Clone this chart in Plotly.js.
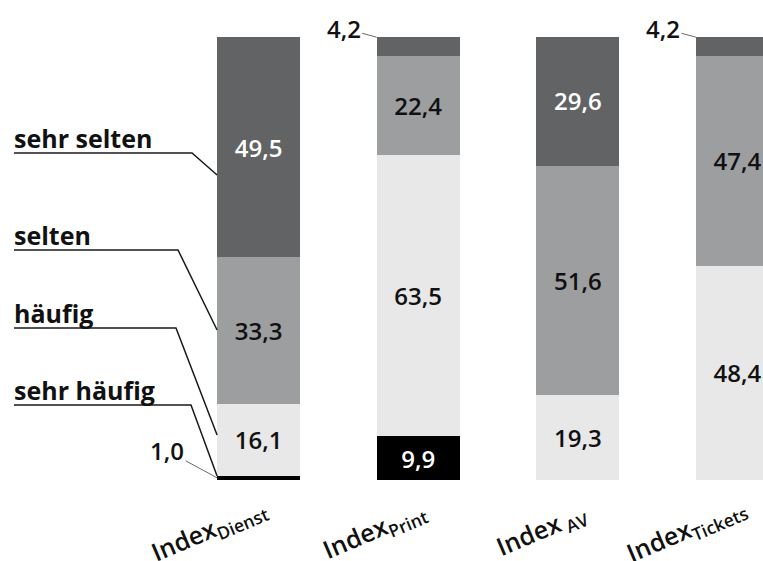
<!DOCTYPE html>
<html>
<head>
<meta charset="utf-8">
<script src="https://cdn.plot.ly/plotly-3.0.1.min.js"></script>
<style>
  html, body { margin: 0; padding: 0; background: #fff; }
  #chart { width: 763px; height: 561px; }
</style>
</head>
<body>
<div id="chart"></div>
<script>
// Stacked shares (%) per index
const categories = ['Dienst', 'Print', 'AV', 'Tickets'];
const tickLabels = ['Index<sub>Dienst</sub>', 'Index<sub>Print</sub>', 'Index<sub> AV</sub>', 'Index<sub>Tickets</sub>'];
const seriesNames = ['sehr häufig', 'häufig', 'selten', 'sehr selten'];
const sehrHaeufig = [1.0, 9.9, 0, 0];
const haeufig     = [16.1, 63.5, 19.3, 48.4];
const selten      = [33.3, 22.4, 51.6, 47.4];
const sehrSelten  = [49.5, 4.2, 29.6, 4.2];

const seriesValues = [sehrHaeufig, haeufig, selten, sehrSelten];
const fills = ['#000000', '#e8e8e8', '#9d9ea0', '#626365'];
const textColors = ['#ffffff', '#111111', '#111111', '#ffffff'];

const W = 763, H = 561;
const M = { l: 0, r: 0, t: 37, b: 81 };
const X_RANGE = [-1.62, 3.16];
const Y_RANGE = [0, 100];
const BAR_GAP = 0.48;
const HALF = (1 - BAR_GAP) / 2;
const SMALL = 5; // segments below this get an outside label with a leader

const fmt = v => v.toFixed(1).replace('.', ',');
const plotW = W - M.l - M.r, plotH = H - M.t - M.b;
// pixel -> data helpers for the decorative leader lines
const px2x = px => X_RANGE[0] + (px - M.l) / plotW * (X_RANGE[1] - X_RANGE[0]);
const py2y = py => Y_RANGE[0] + (H - M.b - py) / plotH * (Y_RANGE[1] - Y_RANGE[0]);
const py2paper = py => (H - M.b - py) / plotH;

const numFont = { family: 'Open Sans, sans-serif', size: 24, weight: 600 };

const traces = seriesValues.map((vals, s) => ({
  type: 'bar',
  name: seriesNames[s],
  x: categories.map((c, i) => i),
  y: vals,
  marker: { color: fills[s], line: { width: 0 } },
  text: vals.map(v => (v >= SMALL ? fmt(v) : '')),
  textposition: 'inside',
  insidetextanchor: 'middle',
  textangle: 0,
  textfont: Object.assign({}, numFont, { color: textColors[s] }),
  hoverinfo: 'skip'
}));

const annotations = [];

// slanted category labels under the bars, right end just past the bar centre
tickLabels.forEach((t, i) => {
  annotations.push({
    x: i, xref: 'x', y: py2paper(530), yref: 'paper',
    text: t, showarrow: false, textangle: -23,
    xanchor: 'right', yanchor: 'middle', xshift: 16,
    font: { family: 'Open Sans, sans-serif', size: 25, weight: 600, color: '#111' }
  });
});

// outside value labels for thin segments, connected by a hairline
seriesValues.forEach((vals, s) => {
  vals.forEach((v, i) => {
    if (v > 0 && v < SMALL) {
      const base = seriesValues.slice(0, s).reduce((a, arr) => a + arr[i], 0);
      const atTop = s === seriesValues.length - 1;
      const tipY = atTop ? Math.min(base + v, Y_RANGE[1] - 0.05) : base + v / 2;
      annotations.push({
        x: i - HALF, xref: 'x',
        y: tipY, yref: 'y',
        text: fmt(v), showarrow: true, arrowhead: 0, arrowwidth: 0.8,
        arrowcolor: '#444', standoff: 0, startstandoff: 0,
        ax: atTop ? -33 : -50, ay: atTop ? -9 : -27,
        font: Object.assign({}, numFont, { color: '#111' })
      });
    }
  });
});

// category legend on the left: label, underline, and a leader to the first bar
const legendRows = [
  { name: 'sehr selten', line: 153, knee: 192, touch: 175 },
  { name: 'selten',      line: 250, knee: 178, touch: 330 },
  { name: 'häufig',      line: 328, knee: 176, touch: 435 },
  { name: 'sehr häufig', line: 405, knee: 191, touch: 476 }
];
const shapes = [];
legendRows.forEach(r => {
  annotations.push({
    x: px2x(12), xref: 'x', y: py2y(r.line + 4), yref: 'y',
    text: '<b>' + r.name + '</b>', showarrow: false,
    xanchor: 'left', yanchor: 'bottom',
    font: { family: 'Open Sans, sans-serif', size: 25, weight: 700, color: '#111' }
  });
  shapes.push({
    type: 'path', xref: 'x', yref: 'y',
    path: `M ${px2x(14)},${py2y(r.line)} L ${px2x(r.knee)},${py2y(r.line)} L ${-HALF},${py2y(r.touch)}`,
    line: { color: '#1a1a1a', width: 1.5 }
  });
});

const layout = {
  width: W, height: H,
  margin: M,
  paper_bgcolor: '#ffffff', plot_bgcolor: '#ffffff',
  barmode: 'stack', bargap: BAR_GAP,
  showlegend: false,
  hovermode: false,
  dragmode: false,
  xaxis: { range: X_RANGE, showticklabels: false, showgrid: false, zeroline: false, showline: false, ticks: '', fixedrange: true },
  yaxis: { range: Y_RANGE, visible: false, showgrid: false, zeroline: false, fixedrange: true },
  annotations: annotations,
  shapes: shapes
};

Plotly.newPlot('chart', traces, layout, { displayModeBar: false });
</script>
</body>
</html>
